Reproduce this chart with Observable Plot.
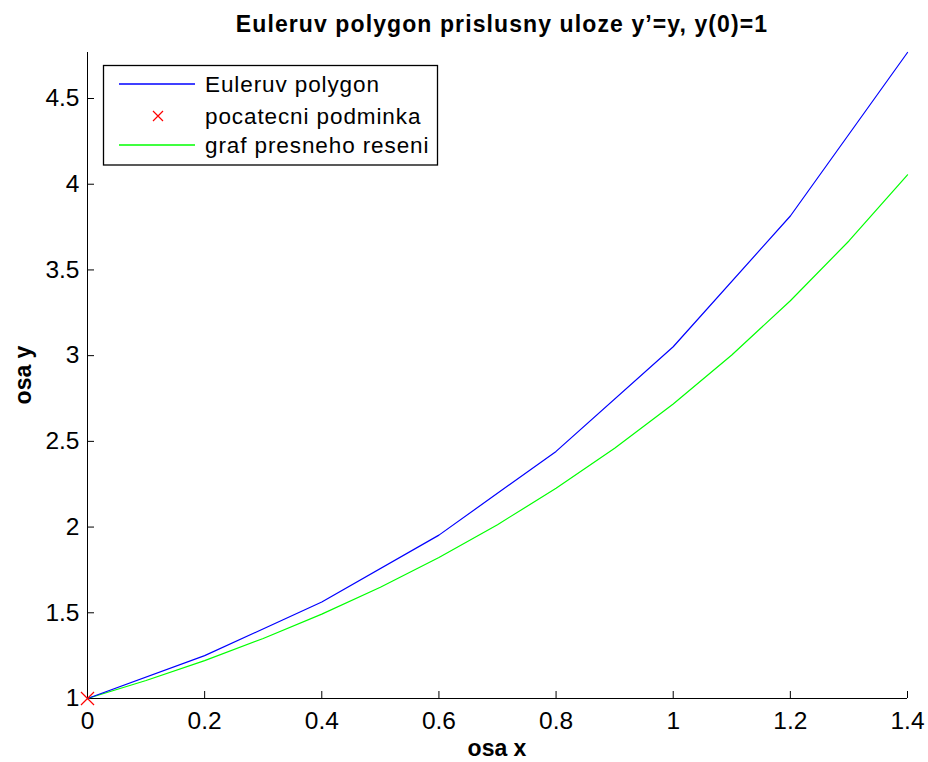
<!DOCTYPE html>
<html>
<head>
<meta charset="utf-8">
<script src="https://cdn.jsdelivr.net/npm/d3@7"></script>
<script src="https://cdn.jsdelivr.net/npm/@observablehq/plot@0.6"></script>
<style>
  html, body { margin: 0; padding: 0; background: #fff; }
  #chart svg { display: block; }
</style>
</head>
<body>
<div id="chart"></div>
<script>
// Euler polygon (step 0.2)
const eulerX = [0, 0.2, 0.4, 0.6, 0.8, 1.0, 1.2, 1.4];
const eulerY = [1, 1.25, 1.5625, 1.9531, 2.4414, 3.0518, 3.8147, 4.7684];
// exact solution graph
const exactX = [0, 0.1, 0.2, 0.3, 0.4, 0.5, 0.6, 0.7, 0.8, 0.9, 1.0, 1.1, 1.2, 1.3, 1.4];
const exactY = [1, 1.105, 1.221, 1.350, 1.492, 1.649, 1.822, 2.014, 2.226, 2.460, 2.718, 3.004, 3.320, 3.669, 4.055];
// initial condition
const initX = [0];
const initY = [1];
// ticks
const xTicks = [0, 0.2, 0.4, 0.6, 0.8, 1, 1.2, 1.4];
const yTicks = [1, 1.5, 2, 2.5, 3, 3.5, 4, 4.5];
const titleText = "Euleruv polygon prislusny uloze y\u2019=y, y(0)=1";
const xLabel = "osa x";
const yLabel = "osa y";
const legendItems = [
  {label: "Euleruv polygon", color: "#0000ff", kind: "line"},
  {label: "pocatecni podminka", color: "#ff0000", kind: "x"},
  {label: "graf presneho reseni", color: "#00ff00", kind: "line"}
];

const euler = eulerX.map((x, i) => ({x, y: eulerY[i]}));
const exact = exactX.map((x, i) => ({x, y: exactY[i]}));
const init = initX.map((x, i) => ({x, y: initY[i]}));

const FONT = "'Liberation Sans', Arial, Helvetica, sans-serif";

const chart = Plot.plot({
  width: 928,
  height: 762,
  marginLeft: 87,
  marginRight: 21,
  marginTop: 52,
  marginBottom: 64,
  style: {fontFamily: FONT, fontSize: "24px", color: "#000", background: "#fff"},
  x: {domain: [0, 1.4]},
  y: {domain: [1, 4.7684]},
  marks: [
    Plot.ruleY([1], {stroke: "#000", strokeWidth: 1}),
    Plot.ruleX([0], {stroke: "#000", strokeWidth: 1}),
    Plot.axisX({ticks: xTicks, tickSize: -7, tickPadding: 20, tickFormat: d => String(d), label: null, stroke: "#000", strokeOpacity: 1, fontSize: 24.5}),
    Plot.axisY({ticks: yTicks, tickSize: -7, tickPadding: 15, tickFormat: d => String(d), label: null, stroke: "#000", strokeOpacity: 1, fontSize: 24.5}),
    Plot.line(exact, {x: "x", y: "y", stroke: "#00ff00", strokeWidth: 1.2}),
    Plot.line(euler, {x: "x", y: "y", stroke: "#0000ff", strokeWidth: 1.2}),
    Plot.dot(init, {x: "x", y: "y", symbol: "times", stroke: "#ff0000", strokeWidth: 1.2, r: 6})
  ]
});

const svg = d3.select(chart);
svg.style("overflow", "visible");

// title
svg.append("text")
  .attr("x", 502).attr("y", 32)
  .attr("text-anchor", "middle")
  .attr("font-family", FONT).attr("font-weight", "bold").attr("font-size", 23)
  .attr("letter-spacing", 1.1)
  .attr("fill", "#000")
  .text(titleText);

// axis labels
svg.append("text")
  .attr("x", 497).attr("y", 756)
  .attr("text-anchor", "middle")
  .attr("font-family", FONT).attr("font-weight", "bold").attr("font-size", 23)
  .attr("fill", "#000")
  .text(xLabel);
svg.append("text")
  .attr("transform", "translate(31,375) rotate(-90)")
  .attr("text-anchor", "middle")
  .attr("font-family", FONT).attr("font-weight", "bold").attr("font-size", 23)
  .attr("fill", "#000")
  .text(yLabel);

// legend
const lg = svg.append("g");
lg.append("rect")
  .attr("x", 103.5).attr("y", 65.5).attr("width", 334).attr("height", 99.5)
  .attr("fill", "#fff").attr("stroke", "#000").attr("stroke-width", 1.3);
const rowY = [84, 116, 145];
legendItems.forEach((it, i) => {
  const cy = rowY[i];
  if (it.kind === "line") {
    lg.append("line").attr("x1", 119).attr("x2", 195).attr("y1", cy).attr("y2", cy)
      .attr("stroke", it.color).attr("stroke-width", 1.3);
  } else {
    const s = 5, cx = 158;
    lg.append("path")
      .attr("d", `M${cx - s},${cy - s}L${cx + s},${cy + s}M${cx - s},${cy + s}L${cx + s},${cy - s}`)
      .attr("stroke", it.color).attr("stroke-width", 1.2).attr("fill", "none");
  }
  lg.append("text")
    .attr("x", 205).attr("y", cy + 8)
    .attr("text-anchor", "start")
    .attr("font-family", FONT).attr("font-size", 22.5)
    .attr("letter-spacing", 0.9)
    .attr("fill", "#000")
    .text(it.label);
});

document.getElementById("chart").appendChild(chart);
</script>
</body>
</html>
